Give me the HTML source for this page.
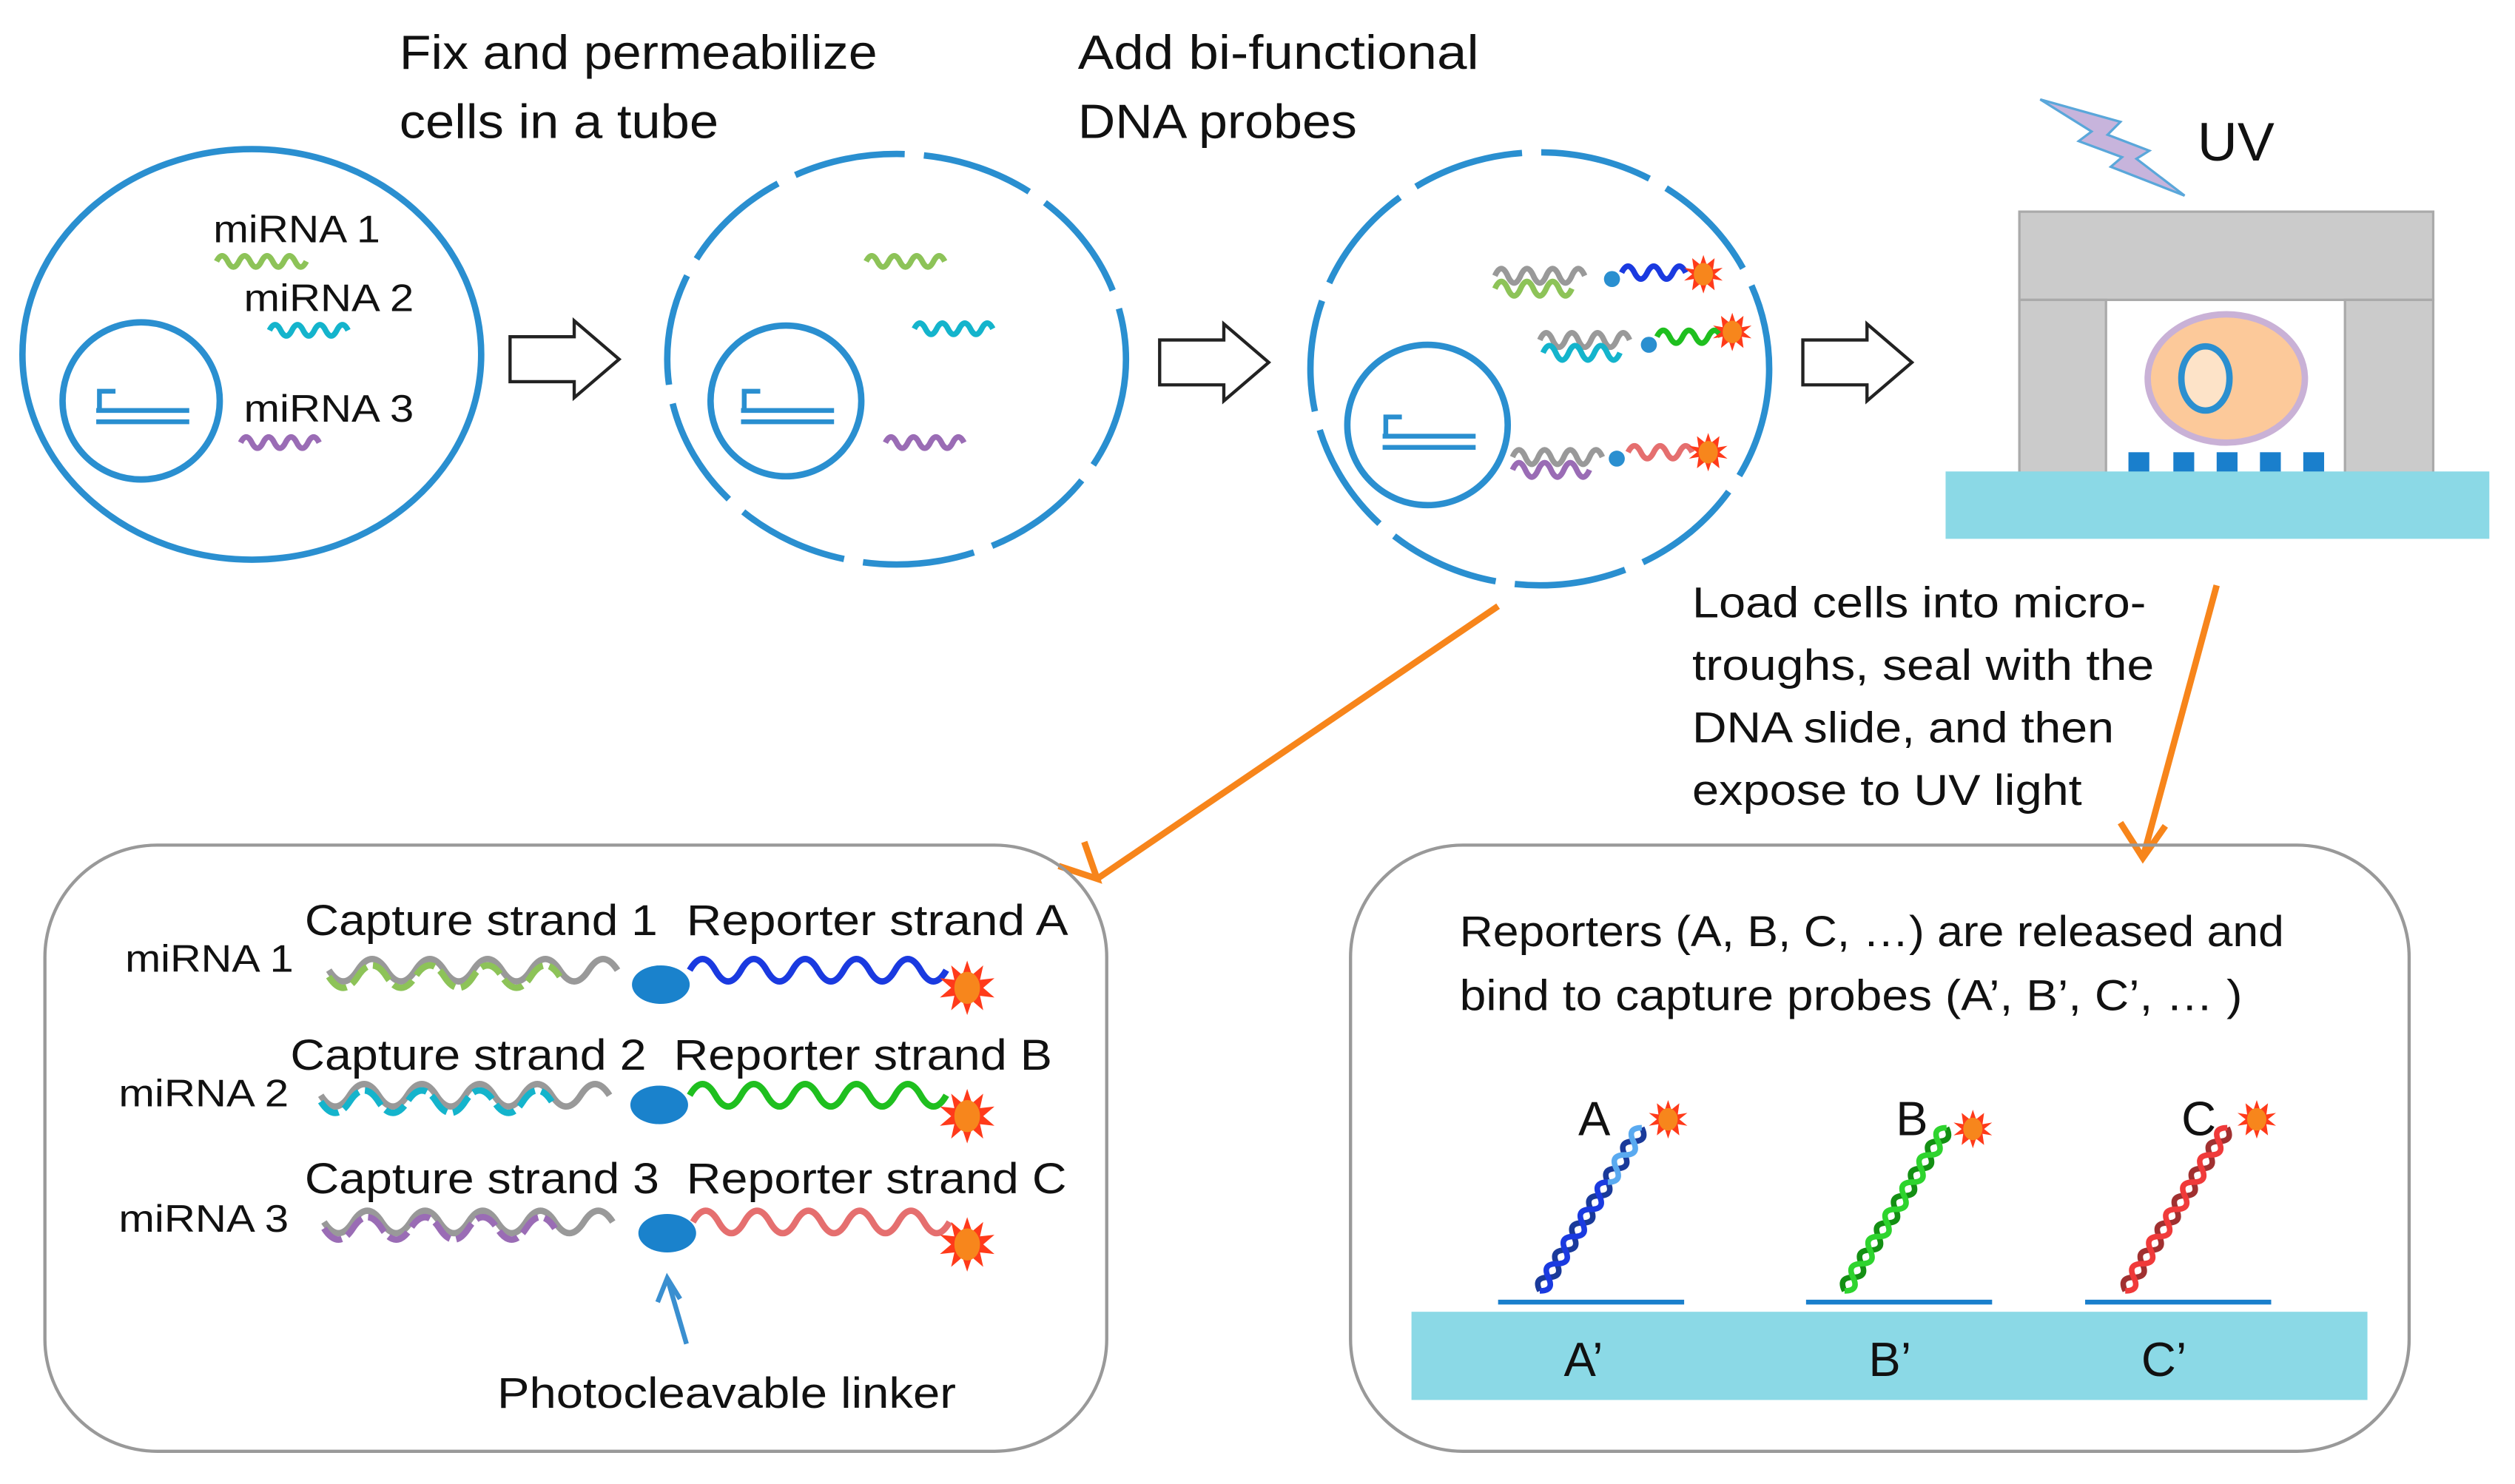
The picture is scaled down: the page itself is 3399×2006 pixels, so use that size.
<!DOCTYPE html>
<html><head><meta charset="utf-8"><style>html,body{margin:0;padding:0;background:#fff}svg{display:block}text{font-family:"Liberation Sans",sans-serif;fill:#111}</style></head><body>
<svg width="3399" height="2006" viewBox="0 0 1568 925.4" preserveAspectRatio="none" xmlns="http://www.w3.org/2000/svg">
<defs>
<g id="sun"><polygon points="0,-17 3,-8 10,-14 8,-5 17,-6 10,0 17,6 8,5 10,14 3,8 0,17 -3,8 -10,14 -8,5 -17,6 -10,0 -17,-6 -8,-5 -10,-14 -3,-8" fill="#ff3a1a"/><ellipse rx="8" ry="10" fill="#f7861c"/></g>
<g id="sunS"><polygon points="0,-12 2,-6 7,-10 6,-3 12,-4 7,0 12,4 6,3 7,10 2,6 0,12 -2,6 -7,10 -6,3 -12,4 -7,0 -12,-4 -6,-3 -7,-10 -2,-6" fill="#ff3a1a"/><ellipse rx="6" ry="7" fill="#f7861c"/></g>
<path id="arr" d="M0,-14 H40 V-24 L68,0 L40,24 V14 H0 Z" fill="#fff" stroke="#222" stroke-width="2"/>
</defs>
<g fill="none" stroke="#2a8fd0" stroke-width="4">
<ellipse cx="157" cy="221" rx="143" ry="128"/>
<circle cx="88" cy="250" r="49"/>
<path d="M60,256 H118 M60,263 H118 M62,256 V244 H72" stroke-width="3"/>
<ellipse cx="559" cy="224" rx="143" ry="128" stroke-dasharray="70 12"/>
<circle cx="490" cy="250" r="47"/>
<path d="M462,256 H520 M462,263 H520 M464,256 V244 H474" stroke-width="3"/>
<ellipse cx="960" cy="230" rx="143" ry="135" stroke-dasharray="70 12"/>
<circle cx="890" cy="265" r="50"/>
<path d="M862,272 H920 M862,279 H920 M864,272 V260 H874" stroke-width="3"/>
</g>
<g lengthAdjust="spacingAndGlyphs">
<text x="249" y="43" font-size="30" textLength="298" lengthAdjust="spacingAndGlyphs">Fix and permeabilize</text>
<text x="249" y="86" font-size="30" textLength="199" lengthAdjust="spacingAndGlyphs">cells in a tube</text>
<text x="672" y="43" font-size="30" textLength="250" lengthAdjust="spacingAndGlyphs">Add bi-functional</text>
<text x="672" y="86" font-size="30" textLength="174" lengthAdjust="spacingAndGlyphs">DNA probes</text>
<text x="133" y="151" font-size="24" textLength="104" lengthAdjust="spacingAndGlyphs">miRNA 1</text>
<text x="152" y="194" font-size="24" textLength="106" lengthAdjust="spacingAndGlyphs">miRNA 2</text>
<text x="152" y="263" font-size="24" textLength="106" lengthAdjust="spacingAndGlyphs">miRNA 3</text>
</g>
<g fill="none" stroke-width="3.5">
<path d="M135,163 q3.5,-7 7,0 t7,0 t7,0 t7,0 t7,0 t7,0 t7,0 t7,0" stroke="#8dc358"/>
<path d="M168,206 q3.5,-7 7,0 t7,0 t7,0 t7,0 t7,0 t7,0 t7,0" stroke="#14b4cc"/>
<path d="M150,276 q3.5,-7 7,0 t7,0 t7,0 t7,0 t7,0 t7,0 t7,0" stroke="#9a6cb5"/>
<path d="M540,163 q3.5,-7 7,0 t7,0 t7,0 t7,0 t7,0 t7,0 t7,0" stroke="#8dc358"/>
<path d="M570,205 q3.5,-7 7,0 t7,0 t7,0 t7,0 t7,0 t7,0 t7,0" stroke="#14b4cc"/>
<path d="M552,276 q3.5,-7 7,0 t7,0 t7,0 t7,0 t7,0 t7,0 t7,0" stroke="#9a6cb5"/>
<path d="M932,172 q4,-9 8,0 t8,0 t8,0 t8,0 t8,0 t8,0 t8,0" stroke="#999"/>
<path d="M932,180 q4,-9 8,0 t8,0 t8,0 t8,0 t8,0 t8,0" stroke="#8dc358"/>
<path d="M1011,170 q4,-8 8,0 t8,0 t8,0 t8,0 t8,0" stroke="#1a3ae0"/>
<path d="M960,212 q4,-9 8,0 t8,0 t8,0 t8,0 t8,0 t8,0 t8,0" stroke="#999"/>
<path d="M962,220 q4,-9 8,0 t8,0 t8,0 t8,0 t8,0 t8,0" stroke="#14b4cc"/>
<path d="M1033,210 q4,-8 8,0 t8,0 t8,0 t8,0 t8,0" stroke="#1fbf1f"/>
<path d="M943,285 q4,-9 8,0 t8,0 t8,0 t8,0 t8,0 t8,0 t8,0" stroke="#999"/>
<path d="M943,293 q4,-9 8,0 t8,0 t8,0 t8,0 t8,0 t8,0" stroke="#9a6cb5"/>
<path d="M1015,282 q4,-8 8,0 t8,0 t8,0 t8,0 t8,0" stroke="#e56f6f"/>
</g>
<circle cx="1005" cy="174" r="5" fill="#2a8fd0"/><use href="#sunS" x="1062" y="171"/>
<circle cx="1028" cy="215" r="5" fill="#2a8fd0"/><use href="#sunS" x="1080" y="207"/>
<circle cx="1008" cy="286" r="5" fill="#2a8fd0"/><use href="#sunS" x="1065" y="282"/>
<use href="#arr" x="318" y="224"/>
<use href="#arr" x="723" y="226"/>
<use href="#arr" x="1124" y="226"/>
<polygon points="1272,62 1322,76 1314,84 1340,94 1332,99 1362,122 1316,104 1323,98 1296,88 1304,82" fill="#c7b4dc" stroke="#5aa7da" stroke-width="1.5"/>
<text x="1370" y="100" font-size="34" textLength="48" lengthAdjust="spacingAndGlyphs">UV</text>
<rect x="1259" y="132" width="258" height="55" fill="#cbcbcb" stroke="#aaa" stroke-width="1.5"/>
<rect x="1259" y="187" width="54" height="110" fill="#cbcbcb" stroke="#aaa" stroke-width="1.5"/>
<rect x="1462" y="187" width="55" height="110" fill="#cbcbcb" stroke="#aaa" stroke-width="1.5"/>
<ellipse cx="1388" cy="236" rx="49" ry="40" fill="#fcc99a" stroke="#c9b1d6" stroke-width="4"/>
<ellipse cx="1375" cy="236" rx="15" ry="20" fill="#fde3c8" stroke="#2a8fd0" stroke-width="4"/>
<g fill="#1a7fcc"><rect x="1327" y="282" width="13" height="14"/><rect x="1355" y="282" width="13" height="14"/><rect x="1382" y="282" width="13" height="14"/><rect x="1409" y="282" width="13" height="14"/><rect x="1436" y="282" width="13" height="14"/></g>
<rect x="1213" y="294" width="339" height="42" fill="#8bd9e6"/>
<text x="1055" y="385" font-size="27" textLength="283" lengthAdjust="spacingAndGlyphs">Load cells into micro-</text>
<text x="1055" y="424" font-size="27" textLength="288" lengthAdjust="spacingAndGlyphs">troughs, seal with the</text>
<text x="1055" y="463" font-size="27" textLength="263" lengthAdjust="spacingAndGlyphs">DNA slide, and then</text>
<text x="1055" y="502" font-size="27" textLength="243" lengthAdjust="spacingAndGlyphs">expose to UV light</text>
<g stroke="#f7851b" stroke-width="4" fill="none"><path d="M934,378 L684,548"/><path d="M660,540 L684,548 L676,525"/><path d="M1382,365 L1336,535"/><path d="M1322,513 L1336,535 L1350,515"/></g>
<rect x="28" y="527" width="662" height="378" rx="70" fill="none" stroke="#999" stroke-width="2"/>
<rect x="842" y="527" width="660" height="378" rx="70" fill="none" stroke="#999" stroke-width="2"/>
<g font-size="27"><text x="190" y="583" textLength="220" lengthAdjust="spacingAndGlyphs">Capture strand 1</text><text x="428" y="583" textLength="238" lengthAdjust="spacingAndGlyphs">Reporter strand A</text>
<text x="181" y="667" textLength="222" lengthAdjust="spacingAndGlyphs">Capture strand 2</text><text x="420" y="667" textLength="236" lengthAdjust="spacingAndGlyphs">Reporter strand B</text>
<text x="190" y="744" textLength="221" lengthAdjust="spacingAndGlyphs">Capture strand 3</text><text x="428" y="744" textLength="237" lengthAdjust="spacingAndGlyphs">Reporter strand C</text></g>
<g font-size="24"><text x="78" y="606" textLength="105" lengthAdjust="spacingAndGlyphs">miRNA 1</text><text x="74" y="690" textLength="106" lengthAdjust="spacingAndGlyphs">miRNA 2</text><text x="74" y="768" textLength="106" lengthAdjust="spacingAndGlyphs">miRNA 3</text></g>
<g fill="none" stroke-width="4">
<path d="M205,605 q9,14 18,0 t18,0 t18,0 t18,0 t18,0 t18,0 t18,0 t18,0 t18,0 t18,0" stroke="#999"/>
<path d="M205,609 q9,14 18,0 t18,0 t18,0 t18,0 t18,0 t18,0 t18,0 t18,0" stroke="#8dc358" stroke-dasharray="14 4"/>
<path d="M430,605 q8,-14 16,0 t16,0 t16,0 t16,0 t16,0 t16,0 t16,0 t16,0 t16,0 t16,0" stroke="#1a3ae0"/>
<path d="M200,683 q9,14 18,0 t18,0 t18,0 t18,0 t18,0 t18,0 t18,0 t18,0 t18,0 t18,0" stroke="#999"/>
<path d="M200,687 q9,14 18,0 t18,0 t18,0 t18,0 t18,0 t18,0 t18,0 t18,0" stroke="#14b4cc" stroke-dasharray="14 4"/>
<path d="M430,683 q8,-14 16,0 t16,0 t16,0 t16,0 t16,0 t16,0 t16,0 t16,0 t16,0 t16,0" stroke="#1fbf1f"/>
<path d="M202,762 q9,14 18,0 t18,0 t18,0 t18,0 t18,0 t18,0 t18,0 t18,0 t18,0 t18,0" stroke="#999"/>
<path d="M202,766 q9,14 18,0 t18,0 t18,0 t18,0 t18,0 t18,0 t18,0 t18,0" stroke="#9a6cb5" stroke-dasharray="14 4"/>
<path d="M432,762 q8,-14 16,0 t16,0 t16,0 t16,0 t16,0 t16,0 t16,0 t16,0 t16,0 t16,0" stroke="#e56f6f"/>
</g>
<ellipse cx="412" cy="614" rx="18" ry="12" fill="#1a82cc"/><use href="#sun" x="603" y="616"/>
<ellipse cx="411" cy="689" rx="18" ry="12" fill="#1a82cc"/><use href="#sun" x="603" y="696"/>
<ellipse cx="416" cy="769" rx="18" ry="12" fill="#1a82cc"/><use href="#sun" x="603" y="776"/>
<g stroke="#3a8fd0" stroke-width="3" fill="none"><path d="M428,838 L416,797"/><path d="M410,812 L416,797 L424,810"/></g>
<text x="310" y="878" font-size="27" textLength="286" lengthAdjust="spacingAndGlyphs">Photocleavable linker</text>
<text x="910" y="590" font-size="27" textLength="514" lengthAdjust="spacingAndGlyphs">Reporters (A, B, C, …) are released and</text>
<text x="910" y="630" font-size="27" textLength="488" lengthAdjust="spacingAndGlyphs">bind to capture probes (A’, B’, C’, … )</text>
<rect x="880" y="818" width="596" height="55" fill="#8bd9e6"/>
<g stroke="#1a7fcc" stroke-width="3"><path d="M934,812 H1050 M1126,812 H1242 M1300,812 H1416"/></g>
<g fill="none" stroke-width="3.5">
<g transform="translate(960,805) rotate(-58)"><path d="M0,0 q5,-8 10,0 t10,0 t10,0 t10,0 t10,0 t10,0 t10,0 t10,0 t10,0 t10,0 t10,0 t10,0" stroke="#1a3a9a"/><path d="M0,0 q5,8 10,0 t10,0 t10,0 t10,0 t10,0 t10,0 t10,0 t10,0" stroke="#1a3ae0"/><path d="M80,0 q5,8 10,0 t10,0 t10,0 t10,0" stroke="#5aaaf0"/></g>
<g transform="translate(1150,805) rotate(-58)"><path d="M0,0 q5,-8 10,0 t10,0 t10,0 t10,0 t10,0 t10,0 t10,0 t10,0 t10,0 t10,0 t10,0 t10,0" stroke="#138f13"/><path d="M0,0 q5,8 10,0 t10,0 t10,0 t10,0 t10,0 t10,0 t10,0 t10,0 t10,0 t10,0 t10,0 t10,0" stroke="#2ed42e"/></g>
<g transform="translate(1325,805) rotate(-58)"><path d="M0,0 q5,-8 10,0 t10,0 t10,0 t10,0 t10,0 t10,0 t10,0 t10,0 t10,0 t10,0 t10,0 t10,0" stroke="#a03030"/><path d="M0,0 q5,8 10,0 t10,0 t10,0 t10,0 t10,0 t10,0 t10,0 t10,0 t10,0 t10,0 t10,0 t10,0" stroke="#f03a3a"/></g>
</g>
<use href="#sunS" x="1040" y="698"/><use href="#sunS" x="1230" y="704"/><use href="#sunS" x="1407" y="698"/>
<g font-size="30"><text x="984" y="708">A</text><text x="1182" y="708">B</text><text x="1360" y="708">C</text>
<text x="975" y="858">A’</text><text x="1165" y="858">B’</text><text x="1335" y="858">C’</text></g>
</svg>
</body></html>
